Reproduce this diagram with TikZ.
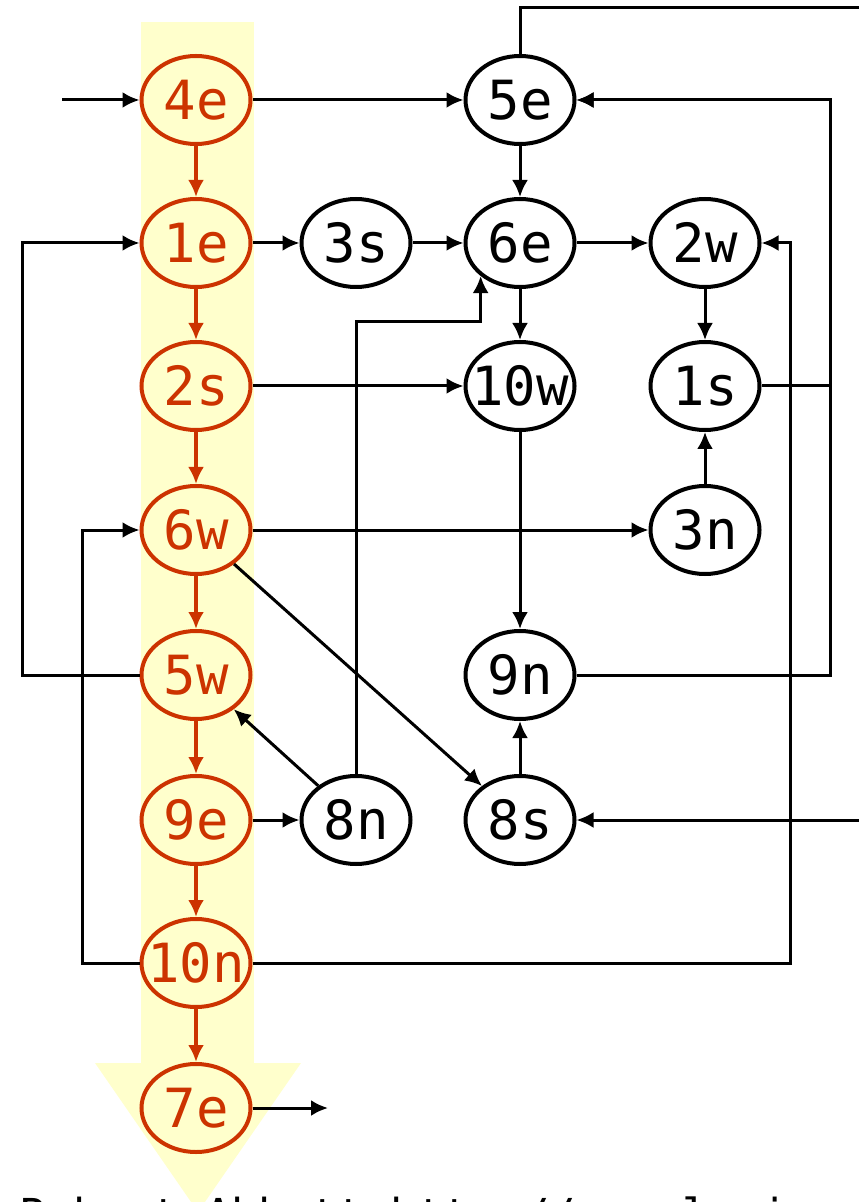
\documentclass[tikz,border=0pt]{standalone}
\usepackage{fontspec}
\usepackage{tikz}
\usetikzlibrary{
  % ellipse nodes
  shapes.geometric,%
  arrows.meta,%
  calc
}
\newfontfamily\roomfont{DejaVu Sans Mono}
\definecolor{pathred}{RGB}{204,51,0}
\definecolor{bandyellow}{RGB}{255,255,204}
\tikzset{>={Latex[length=8.5pt,width=8pt]}}
\tikzset{room/.style={ellipse, draw, line width=2pt, minimum width=54.5pt,
    minimum height=44pt, inner sep=0pt, text height=19.7pt, text depth=0pt,
    font={\roomfont\fontsize{27pt}{27pt}\selectfont}},
  redroom/.style={room, pathred},
  link/.style={->, line width=1.5pt},
  redlink/.style={->, line width=2pt, pathred}}
\newcommand{\lbl}[1]{\makebox[0pt]{#1}}

\begin{document}
\begin{tikzpicture}[x=0.5pt, y=-0.5pt]
  \useasboundingbox (0,0) rectangle (858,1202);
  % yellow band with its arrow head
  \fill[bandyellow] (141,22) rectangle (254,1064);
  \fill[bandyellow] (95,1063) -- (301,1063) -- (198,1212) -- cycle;

  % rooms on the solution path
  \node[redroom] (c4e) at (196,100) {\lbl{4e}};
  \node[redroom] (c1e) at (196,243) {\lbl{1e}};
  \node[redroom] (c2s) at (196,386) {\lbl{2s}};
  \node[redroom] (c6w) at (196,530) {\lbl{6w}};
  \node[redroom] (c5w) at (196,675) {\lbl{5w}};
  \node[redroom] (c9e) at (196,820) {\lbl{9e}};
  \node[redroom] (c10n) at (196,963) {\lbl{10n}};
  \node[redroom] (c7e) at (196,1108) {\lbl{7e}};

  % the other rooms
  \node[room] (c3s) at (356,243) {\lbl{3s}};
  \node[room] (c8n) at (356,820) {\lbl{8n}};
  \node[room] (c5e) at (520,100) {\lbl{5e}};
  \node[room] (c6e) at (520,243) {\lbl{6e}};
  \node[room] (c10w) at (520,386) {\lbl{10w}};
  \node[room] (c9n) at (520,675) {\lbl{9n}};
  \node[room] (c8s) at (520,820) {\lbl{8s}};
  \node[room] (c2w) at (705,243) {\lbl{2w}};
  \node[room] (c1s) at (705,386) {\lbl{1s}};
  \node[room] (c3n) at (705,530) {\lbl{3n}};

  % loose ends and the rails of the long connectors
  \coordinate (start) at (62,100);
  \coordinate (finish) at (328,1108);
  \coordinate (out5e) at (870,8);
  \coordinate (in8s) at (870,820);
  \coordinate (railW) at (22,0);
  \coordinate (railWW) at (82,0);
  \coordinate (railE) at (790,0);
  \coordinate (railEE) at (830,0);
  \coordinate (row8n) at (0,322);

  % solution path
  \draw[redlink] (c4e) -- (c1e);
  \draw[redlink] (c1e) -- (c2s);
  \draw[redlink] (c2s) -- (c6w);
  \draw[redlink] (c6w) -- (c5w);
  \draw[redlink] (c5w) -- (c9e);
  \draw[redlink] (c9e) -- (c10n);
  \draw[redlink] (c10n) -- (c7e);

  % straight moves
  \draw[link] (start) -- (c4e);
  \draw[link] (c7e) -- (finish);
  \draw[link] (c4e) -- (c5e);
  \draw[link] (c1e) -- (c3s);
  \draw[link] (c3s) -- (c6e);
  \draw[link] (c5e) -- (c6e);
  \draw[link] (c6e) -- (c2w);
  \draw[link] (c6e) -- (c10w);
  \draw[link] (c2w) -- (c1s);
  \draw[link] (c3n) -- (c1s);
  \draw[link] (c2s) -- (c10w);
  \draw[link] (c6w) -- (c3n);
  \draw[link] (c6w) -- (c8s);
  \draw[link] (c10w) -- (c9n);
  \draw[link] (c8s) -- (c9n);
  \draw[link] (c9e) -- (c8n);
  \draw[link] (c8n) -- (c5w);
  \draw[link] (in8s) -- (c8s);

  % moves round the outside
  \draw[line width=1.5pt] (c5e.north) |- (out5e);
  \draw[link] (c8n.north) |- (c6e.220 |- row8n) -- (c6e.220);
  \draw[link] (c1s) -- (c1s -| railEE) |- (c5e);
  \draw[link] (c9n) -- (c9n -| railEE) |- (c5e);
  \draw[link] (c10n) -- (c10n -| railE) |- (c2w);
  \draw[link] (c5w) -- (c5w -| railW) |- (c1e);
  \draw[link] (c10n) -- (c10n -| railWW) |- (c6w);

  \node[anchor=base west, font={\roomfont\fontsize{22pt}{22pt}\selectfont}]
    (credit) at (13,1230) {Robert Abbott http://www.logicmazes.com};
\end{tikzpicture}
\end{document}
